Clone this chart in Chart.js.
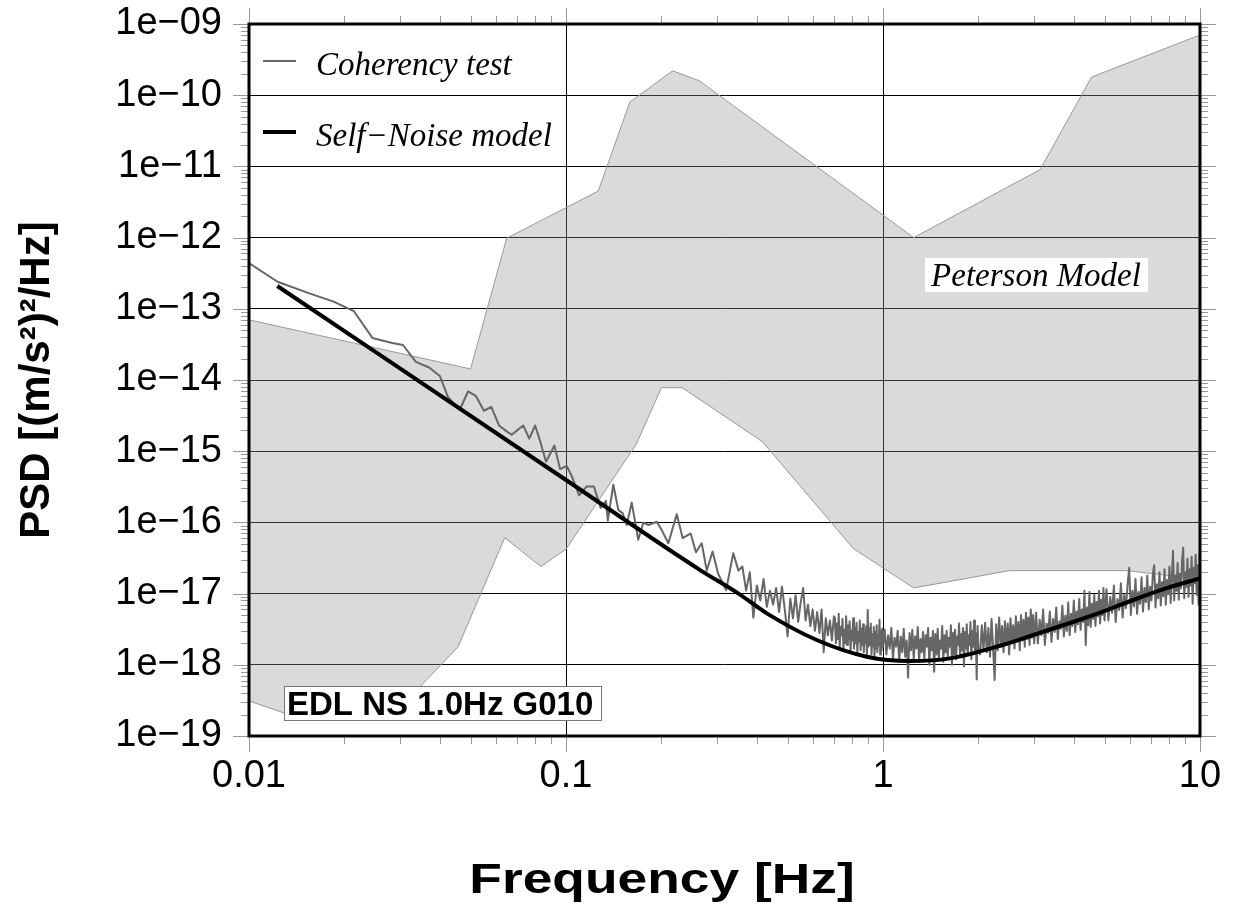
<!DOCTYPE html>
<html>
<head>
<meta charset="utf-8">
<title>PSD - EDL NS 1.0Hz G010</title>
<script src="https://cdn.jsdelivr.net/npm/chart.js@4.4.1/dist/chart.umd.min.js"></script>
<style>
  html, body { margin: 0; padding: 0; background: #fff; }
  canvas { display: block; }
</style>
</head>
<body>
<canvas id="psdChart" width="1235" height="912"></canvas>
<script>
// Axis ticks (decades only, minor marks drawn by plugin)
const xTicks = [0.01, 0.1, 1, 10];
const xTickLabels = ['0.01', '0.1', '1', '10'];
const yTicks = [1e-19, 1e-18, 1e-17, 1e-16, 1e-15, 1e-14, 1e-13, 1e-12, 1e-11, 1e-10, 1e-9];
const yTickLabels = ['1e\u221219', '1e\u221218', '1e\u221217', '1e\u221216', '1e\u221215', '1e\u221214',
                     '1e\u221213', '1e\u221212', '1e\u221211', '1e\u221210', '1e\u221209'];

// Peterson model, [Hz, (m/s^2)^2/Hz]
const petersonHigh = [
  [0.01, 7.0e-14], [0.05, 1.43e-14], [0.065, 9.8e-13], [0.1264, 4.5e-12], [0.159, 8.0e-11],
  [0.217, 2.2e-10], [0.263, 1.6e-10], [1.25, 1.0e-12], [3.13, 9.0e-12], [4.55, 1.8e-10], [10, 7.0e-10]
];
const petersonLow = [
  [0.01, 3.1e-19], [0.0143, 1.8e-19], [0.0222, 1.8e-19], [0.0316, 3.2e-19], [0.0457, 1.8e-18],
  [0.0641, 6.1e-17], [0.0833, 2.4e-17], [0.1, 4.2e-17], [0.1667, 1.26e-15], [0.2, 7.8e-15],
  [0.2326, 7.8e-15], [0.4167, 1.36e-15], [0.806, 4.3e-17], [1.25, 1.2e-17], [2.5, 2.1e-17],
  [5.88, 2.1e-17], [10, 1.6e-17]
];

// Self-noise model
const selfNoise = [
  [0.01228, 2.09e-13], [0.1, 3.94e-16], [0.265, 2.14e-17], [0.35, 1.0e-17], [0.43, 5.28e-18],
  [0.618, 2.23e-18], [0.889, 1.30e-18], [1.216, 1.13e-18], [1.626, 1.23e-18], [2.339, 1.85e-18],
  [2.98, 2.62e-18], [3.80, 3.74e-18], [4.84, 5.39e-18], [6.16, 8.13e-18], [7.85, 1.19e-17], [10, 1.64e-17]
];

// Coherency test PSD
const coherencyTest = [
  [0.0100, 4.4e-13], [0.0123, 2.4e-13], [0.0155, 1.65e-13], [0.0185, 1.26e-13], [0.0214, 9.3e-14],
  [0.0245, 3.9e-14], [0.0283, 3.3e-14], [0.0306, 3.1e-14], [0.0336, 1.8e-14], [0.0370, 1.5e-14],
  [0.0400, 1.14e-14], [0.0424, 5.8e-15], [0.0462, 3.8e-15], [0.0491, 6.9e-15], [0.0519, 6.0e-15],
  [0.0551, 3.7e-15], [0.0581, 4.2e-15], [0.0615, 2.3e-15], [0.0650, 1.9e-15], [0.0674, 1.7e-15],
  [0.0733, 2.3e-15], [0.0766, 1.5e-15], [0.0799, 2.3e-15], [0.0828, 1.4e-15], [0.0865, 7.1e-16],
  [0.0919, 1.2e-15], [0.0958, 5.6e-16], [0.1005, 6.2e-16], [0.1042, 4.5e-16], [0.110, 2.4e-16],
  [0.1162, 3.2e-16], [0.1225, 3.2e-16], [0.1286, 1.6e-16], [0.1337, 2.0e-16], [0.1355, 1.06e-16],
  [0.141, 3.4e-16], [0.1462, 1.5e-16], [0.151, 1.34e-16], [0.1554, 9.2e-17], [0.1612, 1.9e-16],
  [0.169, 5.7e-17], [0.1754, 9.9e-17], [0.182, 9.2e-17], [0.1932, 1.02e-16], [0.2004, 7.8e-17],
  [0.2103, 5.1e-17], [0.2235, 1.3e-16], [0.2335, 6.0e-17], [0.2473, 7.0e-17], [0.257, 3.8e-17],
  [0.268, 5.1e-17], [0.278, 2.1e-17], [0.290, 3.9e-17], [0.302, 1.9e-17], [0.320, 1.12e-17],
  [0.337, 3.7e-17], [0.350, 2.1e-17],
  [0.36, 2.4e-17], [0.37, 1.1e-17], [0.38, 2.0e-17], [0.39, 4.6e-18], [0.40, 1.3e-17],
  [0.41, 8.0e-18], [0.42, 1.6e-17], [0.43, 6.5e-18], [0.44, 1.1e-17], [0.45, 7.0e-18],
  [0.46, 1.2e-17], [0.47, 5.5e-18], [0.48, 1.25e-17], [0.49, 6.0e-18], [0.50, 2.5e-18],
  [0.51, 8.5e-18], [0.52, 4.5e-18], [0.53, 9.5e-18], [0.54, 4.0e-18], [0.55, 7.5e-18],
  [0.56, 1.2e-17], [0.57, 4.2e-18], [0.58, 7.0e-18], [0.59, 3.5e-18], [0.60, 6.0e-18],
  [0.61, 3.0e-18], [0.62, 5.5e-18], [0.63, 2.8e-18], [0.64, 6.0e-18], [0.65, 1.5e-18],
  [0.66, 4.5e-18], [0.67, 2.6e-18], [0.68, 4.2e-18], [0.69, 2.2e-18], [0.70, 4.8e-18],
  [0.705, 4.6e-18], [0.710, 2.0e-18], [0.715, 3.8e-18], [0.720, 2.3e-18], [0.725, 5.2e-18],
  [0.730, 1.7e-18], [0.735, 3.4e-18], [0.740, 2.6e-18], [0.745, 4.4e-18], [0.750, 1.6e-18],
  [0.755, 3.1e-18], [0.760, 2.0e-18], [0.765, 4.8e-18], [0.770, 1.9e-18], [0.775, 3.6e-18],
  [0.780, 2.3e-18], [0.785, 4.1e-18], [0.790, 1.5e-18], [0.795, 3.0e-18], [0.800, 2.2e-18],
  [0.805, 4.5e-18], [0.810, 1.7e-18], [0.815, 3.3e-18], [0.820, 2.0e-18], [0.825, 3.9e-18],
  [0.830, 1.4e-18], [0.835, 2.9e-18], [0.840, 2.1e-18], [0.845, 4.2e-18], [0.850, 1.6e-18],
  [0.855, 3.2e-18], [0.860, 1.9e-18], [0.865, 3.7e-18], [0.870, 1.5e-18], [0.875, 2.8e-18],
  [0.880, 2.0e-18], [0.885, 3.5e-18], [0.890, 1.3e-18], [0.895, 5.9e-18], [0.900, 1.8e-18],
  [0.905, 3.3e-18], [0.910, 1.9e-18], [0.915, 3.8e-18], [0.920, 1.4e-18], [0.925, 2.7e-18],
  [0.930, 1.8e-18], [0.935, 3.4e-18], [0.940, 1.3e-18], [0.945, 2.9e-18], [0.950, 1.7e-18],
  [0.955, 3.6e-18], [0.960, 1.5e-18], [0.965, 2.6e-18], [0.970, 1.9e-18], [0.975, 4.3e-18],
  [0.980, 1.4e-18], [0.985, 3.0e-18], [0.990, 1.6e-18], [0.995, 3.2e-18], [1.000, 1.8e-18],
  [1.0125, 3.1e-18], [1.0250, 1.4e-18], [1.0375, 2.6e-18], [1.0500, 1.7e-18], [1.0625, 3.3e-18],
  [1.0750, 1.2e-18], [1.0875, 2.4e-18], [1.1000, 1.8e-18], [1.1125, 3.0e-18], [1.1250, 1.1e-18],
  [1.1375, 2.5e-18], [1.1500, 1.5e-18], [1.1625, 3.2e-18], [1.1750, 1.3e-18], [1.1875, 2.2e-18],
  [1.2000, 6.6e-19], [1.2125, 2.8e-18], [1.2250, 1.6e-18], [1.2375, 3.1e-18], [1.2500, 1.2e-18],
  [1.2625, 2.5e-18], [1.2750, 1.7e-18], [1.2875, 3.4e-18], [1.3000, 1.1e-18], [1.3125, 2.3e-18],
  [1.3250, 1.5e-18], [1.3375, 2.9e-18], [1.3500, 1.2e-18], [1.3625, 2.6e-18], [1.3750, 1.8e-18],
  [1.3875, 3.3e-18], [1.4000, 1.0e-18], [1.4125, 2.4e-18], [1.4250, 1.6e-18], [1.4375, 3.0e-18],
  [1.4500, 8.0e-19], [1.4625, 2.7e-18], [1.4750, 1.4e-18], [1.4875, 3.2e-18], [1.5000, 1.2e-18],
  [1.5125, 2.2e-18], [1.5250, 1.7e-18], [1.5375, 3.5e-18], [1.5500, 1.1e-18], [1.5625, 2.6e-18],
  [1.5750, 1.5e-18], [1.5875, 3.0e-18], [1.6000, 1.3e-18], [1.6125, 2.4e-18], [1.6250, 1.8e-18],
  [1.6375, 3.6e-18], [1.6500, 1.0e-18], [1.6625, 2.8e-18], [1.6750, 1.4e-18], [1.6875, 3.1e-18],
  [1.7000, 1.2e-18], [1.7125, 2.5e-18], [1.7250, 1.9e-18], [1.7375, 3.8e-18], [1.7500, 1.3e-18],
  [1.7625, 2.7e-18], [1.7750, 1.6e-18], [1.7875, 3.3e-18], [1.8000, 9.5e-19], [1.8125, 2.9e-18],
  [1.8250, 1.7e-18], [1.8375, 3.7e-18], [1.8500, 1.4e-18], [1.8625, 2.6e-18], [1.8750, 1.9e-18],
  [1.8875, 4.0e-18], [1.9000, 1.2e-18], [1.9125, 3.0e-18], [1.9250, 1.8e-18], [1.9375, 4.2e-18],
  [1.9500, 1.5e-18], [1.9625, 2.8e-18], [1.9750, 6.2e-19], [1.9875, 3.5e-18], [2.0000, 1.7e-18],
  [2.025, 1.4e-18], [2.050, 3.6e-18], [2.075, 1.6e-18], [2.100, 3.9e-18], [2.125, 1.5e-18],
  [2.150, 3.3e-18], [2.175, 1.3e-18], [2.200, 4.4e-18], [2.225, 1.7e-18], [2.250, 6.1e-19],
  [2.275, 3.7e-18], [2.300, 1.6e-18], [2.325, 4.6e-18], [2.350, 1.8e-18], [2.375, 3.5e-18],
  [2.400, 1.5e-18], [2.425, 4.1e-18], [2.450, 1.9e-18], [2.475, 3.8e-18], [2.500, 1.4e-18],
  [2.525, 4.5e-18], [2.550, 2.0e-18], [2.575, 3.6e-18], [2.600, 1.7e-18], [2.625, 4.8e-18],
  [2.650, 2.1e-18], [2.675, 4.0e-18], [2.700, 1.6e-18], [2.725, 5.0e-18], [2.750, 2.2e-18],
  [2.775, 4.3e-18], [2.800, 1.8e-18], [2.825, 5.4e-18], [2.850, 2.3e-18], [2.875, 4.6e-18],
  [2.900, 1.9e-18], [2.925, 6.0e-18], [2.950, 2.4e-18], [2.975, 5.0e-18], [3.000, 2.0e-18],
  [3.04, 5.4e-18], [3.08, 2.0e-18], [3.12, 4.3e-18], [3.16, 2.6e-18], [3.20, 6.0e-18],
  [3.24, 1.9e-18], [3.28, 3.8e-18], [3.32, 2.8e-18], [3.36, 5.6e-18], [3.40, 2.1e-18],
  [3.44, 4.4e-18], [3.48, 2.9e-18], [3.52, 6.4e-18], [3.56, 2.3e-18], [3.60, 4.1e-18],
  [3.64, 3.2e-18], [3.68, 6.8e-18], [3.72, 2.5e-18], [3.76, 4.9e-18], [3.80, 3.0e-18],
  [3.84, 7.5e-18], [3.88, 2.6e-18], [3.92, 5.2e-18], [3.96, 3.5e-18], [4.00, 8.0e-18],
  [4.04, 2.9e-18], [4.08, 5.6e-18], [4.12, 3.7e-18], [4.16, 8.4e-18], [4.20, 3.1e-18],
  [4.24, 6.0e-18], [4.28, 4.0e-18], [4.32, 1.1e-17], [4.36, 1.9e-18], [4.40, 6.4e-18],
  [4.44, 3.6e-18], [4.48, 1.05e-17], [4.52, 3.4e-18], [4.56, 7.2e-18], [4.60, 4.4e-18],
  [4.64, 9.6e-18], [4.68, 3.5e-18], [4.72, 7.6e-18], [4.76, 4.8e-18], [4.80, 1.1e-17],
  [4.84, 3.8e-18], [4.88, 8.2e-18], [4.92, 5.0e-18], [4.96, 1.2e-17], [5.00, 4.2e-18],
  [5.07, 1.15e-17], [5.14, 4.2e-18], [5.21, 9.0e-18], [5.28, 5.4e-18], [5.35, 1.3e-17],
  [5.42, 4.0e-18], [5.49, 8.4e-18], [5.56, 5.9e-18], [5.63, 1.4e-17], [5.70, 4.6e-18],
  [5.77, 9.6e-18], [5.84, 6.3e-18], [5.91, 1.35e-17], [5.98, 2.3e-17], [6.05, 5.0e-18],
  [6.12, 1.1e-17], [6.19, 6.6e-18], [6.26, 1.6e-17], [6.33, 5.2e-18], [6.40, 1.05e-17],
  [6.47, 7.2e-18], [6.54, 1.7e-17], [6.61, 5.6e-18], [6.68, 1.2e-17], [6.75, 7.6e-18],
  [6.82, 1.8e-17], [6.89, 6.0e-18], [6.96, 1.25e-17], [7.03, 8.0e-18], [7.10, 1.9e-17],
  [7.17, 2.5e-17], [7.24, 6.4e-18], [7.31, 1.35e-17], [7.38, 8.6e-18], [7.45, 2.0e-17],
  [7.52, 6.8e-18], [7.59, 1.45e-17], [7.66, 9.2e-18], [7.73, 2.2e-17], [7.80, 7.0e-18],
  [7.87, 1.55e-17], [7.94, 9.8e-18], [8.01, 2.4e-17], [8.08, 7.4e-18], [8.15, 1.7e-17],
  [8.22, 4.0e-17], [8.29, 8.0e-18], [8.36, 1.8e-17], [8.43, 1.1e-17], [8.50, 2.7e-17],
  [8.57, 8.2e-18], [8.64, 1.9e-17], [8.71, 1.2e-17], [8.78, 2.9e-17], [8.85, 4.4e-17],
  [8.92, 8.6e-18], [8.99, 2.0e-17], [9.06, 1.25e-17], [9.13, 3.1e-17], [9.20, 9.0e-18],
  [9.27, 2.2e-17], [9.34, 1.3e-17], [9.41, 3.3e-17], [9.48, 7.2e-18], [9.55, 2.3e-17],
  [9.62, 1.4e-17], [9.69, 3.5e-17], [9.76, 9.6e-18], [9.83, 2.5e-17], [9.90, 7.0e-18],
  [9.97, 3.6e-17], [10.0, 2.2e-17]
];

const SANS = '"Liberation Sans", Arial, Helvetica, sans-serif';
const SERIF = '"Liberation Serif", "Times New Roman", serif';

const toPoints = pairs => pairs.map(p => ({ x: p[0], y: p[1] }));

// white page behind the chart
const whiteBackground = {
  id: 'whiteBackground',
  beforeDraw(chart) {
    const ctx = chart.ctx;
    ctx.save();
    ctx.fillStyle = '#fff';
    ctx.fillRect(0, 0, chart.width, chart.height);
    ctx.restore();
  }
};

// outside tick marks on all four sides + thick frame
const frameAndTicks = {
  id: 'frameAndTicks',
  afterDatasetsDraw(chart) {
    const { ctx, chartArea: a, scales: { x, y } } = chart;
    ctx.save();
    ctx.strokeStyle = '#999';
    ctx.lineWidth = 1;
    ctx.beginPath();
    xTicks.forEach((v, i) => {
      const px = Math.round(x.getPixelForValue(v)) + 0.5;
      ctx.moveTo(px, a.top - 16); ctx.lineTo(px, a.top);
      ctx.moveTo(px, a.bottom); ctx.lineTo(px, a.bottom + 16);
      if (i === xTicks.length - 1) return;
      for (let m = 2; m < 10; m++) {
        const mx = Math.round(x.getPixelForValue(v * m)) + 0.5;
        ctx.moveTo(mx, a.top - 8); ctx.lineTo(mx, a.top);
        ctx.moveTo(mx, a.bottom); ctx.lineTo(mx, a.bottom + 8);
      }
    });
    yTicks.forEach((v, i) => {
      const py = Math.round(y.getPixelForValue(v)) + 0.5;
      ctx.moveTo(a.left - 16, py); ctx.lineTo(a.left, py);
      ctx.moveTo(a.right, py); ctx.lineTo(a.right + 16, py);
      if (i === yTicks.length - 1) return;
      for (let m = 2; m < 10; m++) {
        const my = Math.round(y.getPixelForValue(v * m)) + 0.5;
        ctx.moveTo(a.left - 8, my); ctx.lineTo(a.left, my);
        ctx.moveTo(a.right, my); ctx.lineTo(a.right + 8, my);
      }
    });
    ctx.stroke();
    ctx.strokeStyle = '#000';
    ctx.lineWidth = 3;
    ctx.strokeRect(a.left, a.top, a.right - a.left, a.bottom - a.top);
    ctx.restore();
  }
};

// legend, text labels and the (wide) x axis title
const labels = {
  id: 'labels',
  afterDatasetsDraw(chart) {
    const ctx = chart.ctx;
    ctx.save();

    // legend
    const legendSets = [chart.data.datasets[1], chart.data.datasets[0]];
    legendSets.forEach((ds, i) => {
      const yRow = 61 + i * 71;
      ctx.strokeStyle = ds.borderColor;
      ctx.lineWidth = ds.borderWidth;
      ctx.beginPath();
      ctx.moveTo(263, yRow);
      ctx.lineTo(296, yRow);
      ctx.stroke();
      ctx.fillStyle = '#000';
      ctx.font = 'italic 33px ' + SERIF;
      ctx.textAlign = 'left';
      ctx.textBaseline = 'alphabetic';
      ctx.fillText(ds.label, 316, yRow + 14);
    });

    // Peterson Model
    ctx.fillStyle = '#fff';
    ctx.fillRect(925, 258, 223, 34);
    ctx.fillStyle = '#000';
    ctx.font = 'italic 33px ' + SERIF;
    ctx.textAlign = 'center';
    ctx.fillText('Peterson Model', 1036, 286);

    // station label
    ctx.fillStyle = '#fff';
    ctx.fillRect(284, 686, 318, 35);
    ctx.strokeStyle = '#777';
    ctx.lineWidth = 1;
    ctx.strokeRect(284.5, 686.5, 317, 34);
    ctx.fillStyle = '#000';
    ctx.font = 'bold 33px ' + SANS;
    ctx.textAlign = 'left';
    ctx.fillText('EDL NS 1.0Hz G010', 287, 715, 308);

    // x axis title, stretched horizontally like the original
    ctx.translate(662, 881);
    ctx.scale(1.27, 1);
    ctx.font = 'bold 42px ' + SANS;
    ctx.textAlign = 'center';
    ctx.textBaseline = 'middle';
    ctx.fillText('Frequency [Hz]', 0, 0);

    ctx.restore();
  }
};

new Chart(document.getElementById('psdChart'), {
  type: 'line',
  data: {
    datasets: [
      {
        label: 'Self\u2212Noise model',
        data: toPoints(selfNoise),
        borderColor: '#000',
        borderWidth: 4,
        cubicInterpolationMode: 'monotone',
        fill: false
      },
      {
        label: 'Coherency test',
        data: toPoints(coherencyTest),
        borderColor: '#666',
        borderWidth: 2,
        tension: 0,
        fill: false
      },
      {
        label: 'Peterson high',
        data: toPoints(petersonHigh),
        borderColor: '#999',
        borderWidth: 1,
        backgroundColor: 'rgba(150, 150, 150, 0.35)',
        fill: '+1'
      },
      {
        label: 'Peterson low',
        data: toPoints(petersonLow),
        borderColor: '#999',
        borderWidth: 1,
        fill: false
      }
    ]
  },
  options: {
    responsive: false,
    animation: false,
    layout: { padding: { top: 24, right: 35, bottom: 0, left: 0 } },
    elements: { point: { radius: 0 }, line: { borderJoinStyle: 'round' } },
    plugins: { legend: { display: false }, tooltip: { enabled: false } },
    scales: {
      x: {
        type: 'logarithmic',
        min: 0.01,
        max: 10,
        afterBuildTicks: s => { s.ticks = xTicks.map(v => ({ value: v })); },
        afterFit: s => { s.height = 176; s.paddingLeft = 0; s.paddingRight = 0; },
        border: { display: false },
        grid: { color: '#000', lineWidth: 1, drawTicks: false },
        ticks: {
          color: '#000',
          font: { family: SANS, size: 38 },
          padding: 18,
          maxRotation: 0,
          autoSkip: false,
          callback: (v, i) => xTickLabels[i]
        }
      },
      y: {
        type: 'logarithmic',
        min: 1e-19,
        max: 1e-9,
        afterBuildTicks: s => { s.ticks = yTicks.map(v => ({ value: v })); },
        afterFit: s => { s.width = 249; s.paddingTop = 0; s.paddingBottom = 0; },
        border: { display: false },
        grid: { color: '#000', lineWidth: 1, drawTicks: false },
        ticks: {
          color: '#000',
          font: { family: SANS, size: 38 },
          padding: 27,
          autoSkip: false,
          callback: (v, i) => yTickLabels[i]
        },
        title: {
          display: true,
          text: 'PSD [(m/s\u00b2)\u00b2/Hz]',
          color: '#000',
          font: { family: SANS, size: 42, weight: 'bold' },
          padding: { top: 12, bottom: 0 }
        }
      }
    }
  },
  plugins: [whiteBackground, frameAndTicks, labels]
});
</script>
</body>
</html>
